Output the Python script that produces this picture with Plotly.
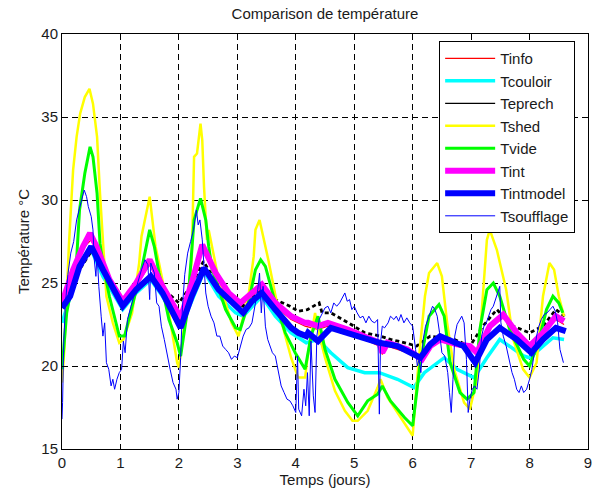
import plotly.graph_objects as go

# Temps (jours) / température (°C) pour chaque capteur
tinfo_t = [0, 0.14, 0.3, 0.5, 0.7, 0.87, 1.04, 1.27, 1.5, 1.72, 2.03, 2.22, 2.4, 2.63, 2.85, 3.05,
           3.25, 3.42, 3.65, 3.92, 4.16, 4.38, 4.55, 4.89, 5.18, 5.43, 5.48, 5.57, 5.91, 6.16, 6.3,
           6.47, 6.76, 6.98, 7.1, 7.32, 7.55, 7.78, 8.0, 8.23, 8.45, 8.59]
tinfo_v = [23.6, 25.6, 26.9, 27.6, 26.2, 24.9, 23.7, 24.8, 26.1, 24.6, 22.7, 24.8, 27.0, 25.4, 24.2, 23.6,
           24.2, 24.7, 23.6, 22.8, 22.4, 22.2, 22.4, 22.0, 21.6, 21.2, 20.7, 21.2, 20.8, 20.3, 21.2,
           21.5, 21.2, 21.0, 20.7, 22.3, 22.9, 21.9, 21.1, 21.9, 22.8, 22.5]

tcouloir_t = [0, 0.14, 0.3, 0.5, 0.7, 1.04, 1.27, 1.52, 1.72, 2.03, 2.43, 2.68, 2.97, 3.1, 3.42, 3.65,
              3.92, 4.18, 4.38, 4.6, 4.89, 5.18, 5.43, 5.74, 6.02, 6.2, 6.54, 6.76, 7.05, 7.27, 7.49,
              7.9, 8.0, 8.4, 8.59]
tcouloir_v = [22.6, 24.2, 26.0, 27.0, 25.4, 23.4, 24.4, 25.2, 24.2, 22.3, 25.7, 24.2, 23.2, 23.0, 24.2, 23.0,
              22.0, 21.4, 21.6, 20.8, 19.9, 19.6, 19.6, 19.2, 18.7, 19.6, 20.5, 19.8, 19.3, 20.5, 21.6,
              20.6, 20.5, 21.7, 21.6]

teprech_t = [0, 0.14, 0.3, 0.5, 0.6, 0.8, 1.05, 1.3, 1.55, 1.75, 2.0, 2.2, 2.42, 2.65, 2.9, 3.1, 3.42,
             3.65, 3.9, 4.04, 4.2, 4.4, 4.45, 4.6, 4.9, 5.18, 5.45, 5.62, 5.75, 6.07, 6.3, 6.5, 6.71,
             6.98, 7.2, 7.44, 7.72, 8.0, 8.23, 8.45, 8.6]
teprech_v = [24.2, 24.5, 25.8, 26.9, 26.6, 25.0, 24.0, 24.8, 25.3, 24.6, 23.8, 24.8, 26.3, 25.0, 24.0, 23.6, 24.6,
             24.0, 23.6, 23.3, 23.4, 23.8, 23.2, 23.2, 22.6, 22.0, 21.8, 21.6, 21.5, 21.2, 21.8, 21.7, 21.6,
             21.2, 22.4, 23.4, 22.4, 22.0, 22.4, 23.4, 23.0]

tshed_t = [0, 0.04, 0.12, 0.19, 0.25, 0.31, 0.39, 0.47, 0.53, 0.6, 0.65, 0.76, 0.87, 0.98, 1.05, 1.2,
           1.32, 1.36, 1.5, 1.6, 1.66, 1.83, 1.97, 2.0, 2.12, 2.22, 2.26, 2.31, 2.37, 2.4, 2.43, 2.48,
           2.51, 2.68, 2.9, 3.02, 3.19, 3.28, 3.31, 3.38, 3.53, 3.7, 3.92, 4.04, 4.16, 4.2, 4.33, 4.38,
           4.5, 4.67, 4.84, 4.97, 5.06, 5.23, 5.4, 5.45, 5.57, 5.74, 5.91, 6.0, 6.1, 6.21, 6.28, 6.42,
           6.5, 6.59, 6.71, 6.88, 6.98, 7.1, 7.18, 7.27, 7.32, 7.44, 7.6, 7.72, 7.89, 8.0, 8.12, 8.23,
           8.34, 8.42, 8.5, 8.59]
tshed_v = [19.0, 21.0, 27.4, 31.8, 33.8, 35.2, 36.2, 36.7, 35.8, 33.8, 30.4, 24.2, 22.6, 21.4, 21.6, 23.2,
           26.2, 27.8, 30.2, 27.2, 26.2, 23.2, 20.2, 19.9, 23.2, 26.4, 32.6, 32.8, 34.6, 33.6, 30.8, 27.6,
           28.2, 25.2, 22.6, 21.8, 24.2, 26.6, 28.2, 28.8, 26.4, 23.4, 20.5, 19.3, 19.3, 20.5, 23.2, 22.2,
           20.5, 18.5, 17.3, 16.7, 16.7, 17.3, 18.7, 19.2, 18.1, 17.2, 16.3, 15.8, 20.2, 24.2, 25.6, 26.2,
           25.4, 22.6, 19.8, 17.8, 17.4, 19.2, 23.2, 27.6, 28.2, 27.0, 24.6, 21.6, 19.8, 19.3, 20.2, 24.2,
           26.2, 25.8, 24.2, 23.0]

tvide_t = [0, 0.08, 0.25, 0.3, 0.39, 0.48, 0.53, 0.6, 0.65, 0.7, 0.81, 0.93, 0.98, 1.07, 1.2, 1.36,
           1.5, 1.58, 1.66, 1.83, 1.97, 2.03, 2.14, 2.26, 2.37, 2.46, 2.51, 2.57, 2.8, 2.97, 3.05, 3.19,
           3.31, 3.4, 3.48, 3.65, 3.82, 3.99, 4.16, 4.26, 4.38, 4.5, 4.67, 4.89, 5.06, 5.23, 5.4, 5.48,
           5.62, 5.86, 6.0, 6.13, 6.28, 6.45, 6.54, 6.64, 6.81, 6.93, 7.05, 7.15, 7.27, 7.38, 7.49,
           7.66, 7.9, 8.0, 8.15, 8.29, 8.4, 8.5, 8.57]
tvide_v = [19.8, 23.2, 26.4, 29.4, 31.6, 33.2, 32.6, 30.4, 27.4, 26.2, 24.2, 22.6, 21.8, 21.8, 23.6, 25.8,
           28.2, 27.2, 25.6, 22.8, 21.4, 20.6, 23.2, 28.8, 30.1, 28.8, 27.2, 25.8, 23.4, 22.3, 22.2, 23.8,
           25.8, 26.4, 26.0, 23.8, 22.0, 20.8, 19.8, 21.8, 23.0, 21.0, 19.2, 17.8, 17.0, 17.9, 18.3, 18.8,
           17.9, 16.9, 16.4, 20.2, 23.0, 23.7, 23.0, 20.2, 18.4, 18.0, 18.4, 22.2, 24.6, 25.0, 24.2,
           22.2, 20.4, 20.0, 21.4, 23.4, 24.2, 23.8, 23.2]

tint_t = [0, 0.19, 0.36, 0.48, 0.59, 0.81, 1.04, 1.27, 1.5, 1.72, 2.03, 2.22, 2.4, 2.63, 2.85, 3.05,
          3.25, 3.42, 3.65, 3.92, 4.16, 4.21, 4.38, 4.55, 4.89, 5.18, 5.43, 5.48, 5.57, 5.91, 6.16,
          6.3, 6.47, 6.76, 6.98, 7.1, 7.32, 7.55, 7.78, 8.0, 8.23, 8.45, 8.59]
tint_v = [23.8, 25.8, 27.2, 28.0, 27.2, 25.2, 23.9, 25.0, 26.4, 24.8, 22.9, 25.0, 27.3, 25.6, 24.4, 23.8,
          24.4, 24.9, 23.8, 23.0, 22.6, 22.6, 22.4, 22.6, 22.2, 21.8, 21.4, 20.8, 21.4, 21.0, 20.4,
          21.2, 21.6, 21.3, 21.2, 20.8, 22.4, 23.1, 22.0, 21.2, 22.0, 23.0, 22.7]

tintmodel_t = [0, 0.14, 0.3, 0.5, 0.7, 0.87, 1.04, 1.27, 1.52, 1.72, 2.03, 2.22, 2.43, 2.68, 2.97, 3.1,
               3.25, 3.42, 3.65, 3.92, 4.04, 4.18, 4.21, 4.38, 4.6, 4.89, 5.18, 5.43, 5.74, 6.13, 6.3,
               6.47, 6.87, 7.07, 7.27, 7.49, 7.78, 8.03, 8.23, 8.45, 8.62]
tintmodel_v = [23.5, 24.2, 26.0, 27.2, 25.8, 24.6, 23.6, 24.6, 25.4, 24.4, 22.3, 24.2, 25.9, 24.6, 23.6, 23.2,
               23.9, 24.4, 23.4, 22.3, 22.0, 21.8, 22.0, 21.5, 22.3, 22.0, 21.7, 21.4, 21.2, 20.5, 21.3,
               21.8, 21.2, 20.2, 21.6, 22.3, 21.6, 20.8, 21.6, 22.3, 22.1]

tsouff_t = [0.0, 0.01, 0.03, 0.06, 0.1, 0.15, 0.2, 0.25, 0.3, 0.35, 0.38, 0.42, 0.45, 0.5, 0.53, 0.55,
            0.58, 0.6, 0.63, 0.67, 0.7, 0.73, 0.76, 0.8, 0.84, 0.87, 0.9, 0.94, 0.98, 1.02, 1.05, 1.08,
            1.12, 1.18, 1.25, 1.3, 1.36, 1.42, 1.47, 1.5, 1.52, 1.58, 1.62, 1.66, 1.7, 1.75, 1.8, 1.85,
            1.9, 1.95, 1.97, 2.0, 2.03, 2.06, 2.1, 2.15, 2.2, 2.25, 2.3, 2.33, 2.36, 2.4, 2.43, 2.46,
            2.5, 2.55, 2.6, 2.65, 2.7, 2.75, 2.8, 2.85, 2.9, 2.95, 3.0, 3.05, 3.1, 3.15, 3.2, 3.25,
            3.3, 3.35, 3.38, 3.41, 3.44, 3.48, 3.52, 3.56, 3.6, 3.65, 3.7, 3.75, 3.8, 3.85, 3.9, 3.95,
            4.0, 4.03, 4.05, 4.1, 4.14, 4.17, 4.2, 4.23, 4.26, 4.3, 4.33, 4.36, 4.4, 4.45, 4.5, 4.55,
            4.6, 4.65, 4.7, 4.75, 4.8, 4.84, 4.88, 4.92, 4.96, 5.0, 5.05, 5.1, 5.15, 5.2, 5.25, 5.3,
            5.35, 5.4, 5.43, 5.45, 5.48, 5.52, 5.58, 5.62, 5.68, 5.72, 5.76, 5.8, 5.85, 5.9, 5.95, 6.0,
            6.05, 6.08, 6.11, 6.14, 6.18, 6.22, 6.26, 6.3, 6.34, 6.38, 6.42, 6.46, 6.5, 6.55, 6.6, 6.63,
            6.66, 6.69, 6.72, 6.76, 6.8, 6.84, 6.88, 6.92, 6.95, 6.98, 7.02, 7.06, 7.1, 7.14, 7.18, 7.22,
            7.26, 7.3, 7.34, 7.38, 7.42, 7.46, 7.49, 7.51, 7.55, 7.6, 7.65, 7.7, 7.74, 7.78, 7.82, 7.86,
            7.9, 7.95, 8.0, 8.04, 8.08, 8.12, 8.16, 8.2, 8.25, 8.3, 8.35, 8.4, 8.44, 8.48, 8.52, 8.55,
            8.58]
tsouff_v = [16.8, 17.8, 21.5, 23.8, 25.5, 26.8, 27.5, 28.8, 29.5, 30.2, 30.6, 30.2, 29.6, 29.0, 28.2, 26.5,
            25.4, 26.8, 24.8, 23.0, 21.8, 22.6, 20.2, 19.8, 18.8, 19.2, 18.6, 19.2, 19.6, 19.8, 21.5, 20.8,
            22.8, 23.6, 24.5, 25.2, 25.8, 26.4, 26.1, 24.0, 26.2, 25.6, 23.8, 23.6, 22.4, 21.6, 20.6, 19.8,
            19.0, 18.6, 18.0, 18.4, 20.5, 23.5, 25.5, 26.8, 27.5, 28.2, 29.4, 28.5, 28.8, 27.6, 26.0, 24.4,
            23.6, 23.0, 22.6, 21.8, 21.8, 21.2, 21.0, 20.8, 20.4, 20.6, 20.5, 21.2, 21.8, 22.2, 22.3, 22.6,
            23.6, 24.6, 25.6, 23.2, 24.8, 22.4, 21.6, 21.2, 20.8, 20.6, 19.6, 18.8, 18.4, 18.0, 17.9, 17.6,
            17.2, 20.6, 17.4, 17.0, 18.6, 17.6, 19.6, 17.0, 21.5, 18.2, 17.2, 21.8, 22.8, 23.2, 23.5, 23.6,
            23.2, 23.8, 23.6, 23.8, 24.1, 24.4, 23.9, 24.0, 23.4, 23.6, 23.2, 22.9, 23.0, 22.6, 23.0, 22.7,
            22.6, 22.8, 17.1, 21.4, 22.4, 22.3, 22.6, 23.0, 22.8, 23.0, 22.7, 23.1, 22.6, 22.9, 22.6, 22.4,
            21.0, 20.0, 20.4, 19.6, 21.6, 22.4, 22.8, 23.2, 23.6, 23.4, 23.0, 22.0, 20.8, 20.6, 19.6, 18.4,
            17.2, 19.2, 21.8, 22.5, 22.8, 23.0, 22.6, 20.4, 17.2, 18.0, 18.6, 18.8, 18.6, 19.8, 21.8, 22.4,
            22.6, 23.0, 23.4, 23.6, 24.0, 24.4, 24.8, 22.6, 21.8, 21.2, 20.4, 19.6, 19.2, 18.6, 18.4, 18.8,
            18.4, 18.6, 19.2, 19.8, 20.8, 21.8, 22.4, 22.8, 23.1, 23.2, 23.4, 23.6, 23.3, 22.6, 21.0, 20.6,
            20.2]

x_ticks = [0, 1, 2, 3, 4, 5, 6, 7, 8, 9]
y_ticks = [15, 20, 25, 30, 35, 40]

FONT = "Liberation Sans, Arial, Helvetica, sans-serif"

fig = go.Figure()


def add_line(x, y, name, color, width, dash="solid", showlegend=True):
    fig.add_trace(go.Scatter(
        x=x, y=y, name=name, mode="lines", showlegend=showlegend,
        line=dict(color=color, width=width, dash=dash),
        hoverinfo="skip",
    ))


add_line(tinfo_t, tinfo_v, "Tinfo", "#ff0000", 1.2)
add_line(tcouloir_t, tcouloir_v, "Tcouloir", "#00ffff", 3.5)
# Teprech : trait fin dans la légende, tracé épais pointillé dans le graphe
add_line(teprech_t, teprech_v, "Teprech", "#000000", 2.8, dash="4px,3px", showlegend=False)
add_line([None], [None], "Teprech", "#000000", 1.2)
add_line(tshed_t, tshed_v, "Tshed", "#ffff00", 2.5)
add_line(tvide_t, tvide_v, "Tvide", "#00ff00", 3)
add_line(tint_t, tint_v, "Tint", "#ff00ff", 6)
add_line(tintmodel_t, tintmodel_v, "Tintmodel", "#0000ff", 6)
add_line(tsouff_t, tsouff_v, "Tsoufflage", "#0000ff", 1)

axis_common = dict(
    showline=True, linecolor="black", linewidth=1, mirror="ticks",
    ticks="inside", ticklen=5, tickcolor="black", tickwidth=1,
    showgrid=True, gridcolor="black", gridwidth=1, griddash="6px,4px",
    zeroline=False, tickfont=dict(family=FONT, size=15, color="#1a1a1a"),
    title_font=dict(family=FONT, size=15, color="#1a1a1a"),
)

fig.update_xaxes(range=[0, 9], tickvals=x_ticks, title_text="Temps (jours)",
                 title_standoff=4, **axis_common)
fig.update_yaxes(range=[15, 40], tickvals=y_ticks, title_text="Température °C",
                 title_standoff=8, **axis_common)

fig.update_layout(
    width=603, height=497,
    margin=dict(l=62, r=11, t=34, b=48),
    paper_bgcolor="white", plot_bgcolor="white",
    font=dict(family=FONT, size=15, color="#1a1a1a"),
    title=dict(text="Comparison de température", x=0.5, xref="paper", xanchor="center",
               y=1 - 14 / 497, yanchor="middle",
               font=dict(family=FONT, size=15, color="#1a1a1a")),
    legend=dict(
        x=0.717, y=0.983, xanchor="left", yanchor="top",
        bgcolor="white", bordercolor="black", borderwidth=1,
        font=dict(family=FONT, size=15, color="#1a1a1a"),
        itemwidth=50, traceorder="normal",
    ),
    showlegend=True,
)

fig.write_html("out.html")
